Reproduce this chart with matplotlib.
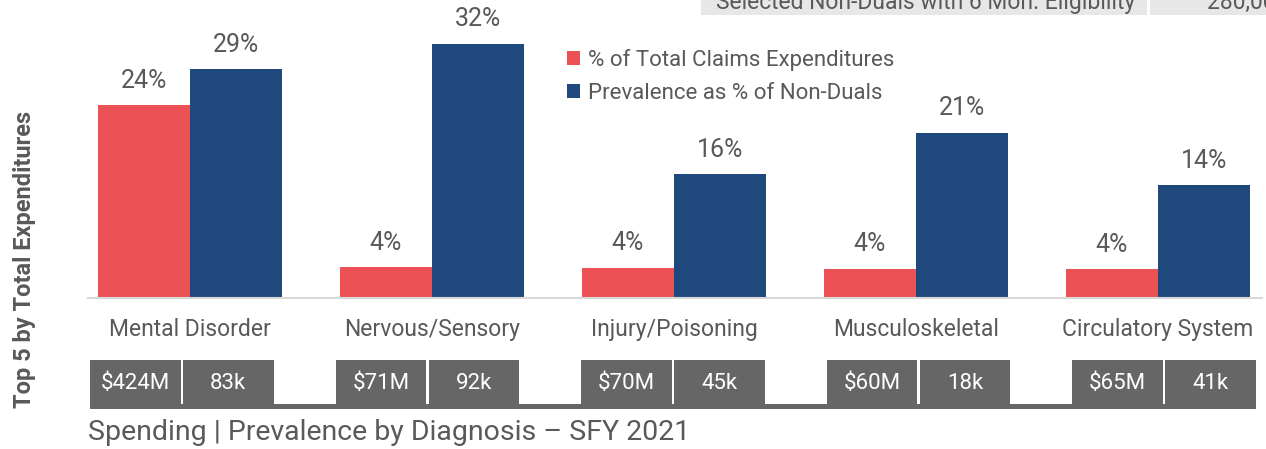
import matplotlib
matplotlib.use("Agg")
import matplotlib.pyplot as plt
import matplotlib.transforms as mtransforms
from matplotlib.patches import Rectangle
import numpy as np

# data
categories = ["Mental Disorder", "Nervous/Sensory", "Injury/Poisoning",
              "Musculoskeletal", "Circulatory System"]
pct_expenditures = [24.3, 3.9, 3.8, 3.7, 3.6]
pct_prevalence = [28.8, 32.0, 15.6, 20.8, 14.2]
spending_labels = ["$424M", "$71M", "$70M", "$60M", "$65M"]
count_labels = ["83k", "92k", "45k", "18k", "41k"]

RED = "#EC5156"
BLUE = "#1F497D"
GREY_TXT = "#595959"
BOX = "#666666"
FONT = "Roboto"

plt.rcParams['font.family'] = [FONT, 'DejaVu Sans']

W, H = 1266, 449
fig = plt.figure(figsize=(W / 100, H / 100), dpi=100)

# axes placed in pixel terms: left 88, right 1262, baseline at y=298
ax = fig.add_axes([88 / W, (H - 298) / H, (1262 - 88) / W, 298 / H])
x = np.arange(len(categories))
bw = 0.38
b1 = ax.bar(x - bw / 2, pct_expenditures, bw, color=RED,
            label="% of Total Claims Expenditures")
b2 = ax.bar(x + bw / 2, pct_prevalence, bw, color=BLUE,
            label="Prevalence as % of Non-Duals")

ax.set_xlim(-0.421, 4.43)
ax.set_ylim(0, 37.53)

for bars, vals in [(b1, pct_expenditures), (b2, pct_prevalence)]:
    for rect, v in zip(bars, vals):
        ax.annotate(f"{v:.0f}%", (rect.get_x() + rect.get_width() / 2, v),
                    xytext=(0, 9), textcoords="offset points",
                    ha="center", va="bottom", fontsize=18, color=GREY_TXT)

ax.set_xticks(x)
ax.set_xticklabels(categories, fontsize=16.5, color=GREY_TXT)
ax.tick_params(axis="x", length=0, pad=14.5)
ax.set_yticks([])
for s in ["top", "left", "right"]:
    ax.spines[s].set_visible(False)
ax.spines["bottom"].set_color("#D9D9D9")
ax.spines["bottom"].set_linewidth(1.5)

# legend
ax.legend(loc="upper left", bbox_to_anchor=(558 / W, 1 - 40 / H),
          bbox_transform=fig.transFigure, frameon=False, fontsize=16,
          handlelength=0.6, handleheight=0.6, handletextpad=0.35,
          labelspacing=0.55, labelcolor=GREY_TXT, borderaxespad=0)

# dark boxes with spending and count under each group
# (the little table is spaced a touch wider than the bars)
trans = mtransforms.blended_transform_factory(ax.transData, ax.transAxes)
box_top = -62 / 298
box_bot = -111 / 298
box_w = 0.384
gap = 0.005
box_centers = -0.033 + x * 1.0145
for i in range(len(categories)):
    for j, txt in enumerate([spending_labels[i], count_labels[i]]):
        left = box_centers[i] - box_w + j * box_w
        ax.add_patch(Rectangle((left + gap, box_bot), box_w - 2 * gap,
                               box_top - box_bot, transform=trans,
                               color=BOX, clip_on=False, lw=0))
        ax.text(left + box_w / 2, (box_top + box_bot) / 2 + 0.005, txt,
                transform=trans, ha="center", va="center", color="white",
                fontsize=16)
ax.add_patch(Rectangle((box_centers[0] - box_w + gap, box_bot),
                       box_centers[-1] - box_centers[0] + 2 * box_w - 2 * gap,
                       5 / 298, transform=trans, color=BOX, clip_on=False, lw=0))

# title and side label
fig.text(88 / W, 1 - 440 / H, "Spending | Prevalence by Diagnosis \u2013 SFY 2021",
         fontsize=20.5, color=GREY_TXT, ha="left", va="baseline")
fig.text(25 / W, 1 - 259 / H, "Top 5 by Total Expenditures", rotation=90,
         fontsize=17, fontweight="bold", color=GREY_TXT, ha="center", va="center")

# partial header table at top right (cut off by the image edge)
fig.patches.append(Rectangle((701 / W, 1 - 15 / H), (1147 - 701) / W, 15 / H,
                             transform=fig.transFigure, color="#E7E7E7", lw=0))
fig.patches.append(Rectangle((1150 / W, 1 - 15 / H), (W - 1150) / W, 15 / H,
                             transform=fig.transFigure, color="#E7E7E7", lw=0))
fig.text(926 / W, 1 - 9 / H, "Selected Non-Duals with 6 Mon. Eligibility",
         fontsize=16.5, color=GREY_TXT, ha="center", va="baseline")
fig.text(1207 / W, 1 - 9 / H, "280,000", fontsize=16.5, color=GREY_TXT,
         ha="left", va="baseline")

fig.savefig("out.png", dpi=100)
